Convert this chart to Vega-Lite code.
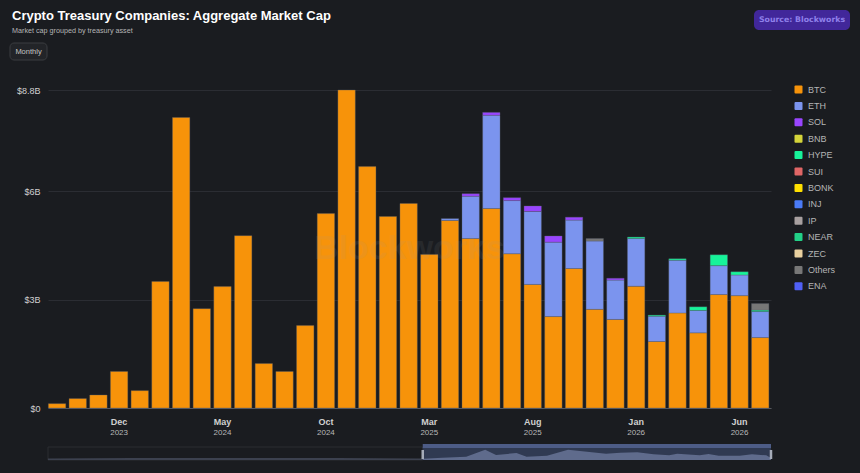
{"$schema":"https://vega.github.io/schema/vega-lite/v6.json","background":"#1a1c20","padding":{"left":9,"top":10,"right":10,"bottom":12},"autosize":{"type":"pad"},"config":{"font":"Liberation Sans","view":{"stroke":null},"concat":{"spacing":0}},"datasets":{"bars":[{"m":"2023-09","a":"BTC","v":0.12},{"m":"2023-10","a":"BTC","v":0.26},{"m":"2023-11","a":"BTC","v":0.36},{"m":"2023-12","a":"BTC","v":1.01},{"m":"2024-01","a":"BTC","v":0.48},{"m":"2024-02","a":"BTC","v":3.5},{"m":"2024-03","a":"BTC","v":8.04},{"m":"2024-04","a":"BTC","v":2.75},{"m":"2024-05","a":"BTC","v":3.36},{"m":"2024-06","a":"BTC","v":4.77},{"m":"2024-07","a":"BTC","v":1.23},{"m":"2024-08","a":"BTC","v":1.01},{"m":"2024-09","a":"BTC","v":2.28},{"m":"2024-10","a":"BTC","v":5.38},{"m":"2024-11","a":"BTC","v":8.8},{"m":"2024-12","a":"BTC","v":6.68},{"m":"2025-01","a":"BTC","v":5.3},{"m":"2025-02","a":"BTC","v":5.66},{"m":"2025-03","a":"BTC","v":4.25},{"m":"2025-04","a":"BTC","v":5.19},{"m":"2025-04","a":"ETH","v":0.05},{"m":"2025-05","a":"BTC","v":4.69},{"m":"2025-05","a":"ETH","v":1.17},{"m":"2025-05","a":"SOL","v":0.07},{"m":"2025-06","a":"BTC","v":5.52},{"m":"2025-06","a":"ETH","v":2.58},{"m":"2025-06","a":"SOL","v":0.08},{"m":"2025-07","a":"BTC","v":4.27},{"m":"2025-07","a":"ETH","v":1.47},{"m":"2025-07","a":"SOL","v":0.08},{"m":"2025-08","a":"BTC","v":3.42},{"m":"2025-08","a":"ETH","v":2.02},{"m":"2025-08","a":"SOL","v":0.15},{"m":"2025-09","a":"BTC","v":2.53},{"m":"2025-09","a":"ETH","v":2.06},{"m":"2025-09","a":"SOL","v":0.17},{"m":"2025-10","a":"BTC","v":3.86},{"m":"2025-10","a":"ETH","v":1.34},{"m":"2025-10","a":"SOL","v":0.08},{"m":"2025-11","a":"BTC","v":2.73},{"m":"2025-11","a":"ETH","v":1.89},{"m":"2025-11","a":"Others","v":0.07},{"m":"2025-12","a":"BTC","v":2.45},{"m":"2025-12","a":"ETH","v":1.09},{"m":"2025-12","a":"SOL","v":0.05},{"m":"2026-01","a":"BTC","v":3.37},{"m":"2026-01","a":"ETH","v":1.32},{"m":"2026-01","a":"HYPE","v":0.04},{"m":"2026-02","a":"BTC","v":1.84},{"m":"2026-02","a":"ETH","v":0.7},{"m":"2026-02","a":"HYPE","v":0.03},{"m":"2026-03","a":"BTC","v":2.63},{"m":"2026-03","a":"ETH","v":1.46},{"m":"2026-03","a":"HYPE","v":0.04},{"m":"2026-04","a":"BTC","v":2.08},{"m":"2026-04","a":"ETH","v":0.62},{"m":"2026-04","a":"HYPE","v":0.1},{"m":"2026-05","a":"BTC","v":3.14},{"m":"2026-05","a":"ETH","v":0.8},{"m":"2026-05","a":"HYPE","v":0.3},{"m":"2026-06","a":"BTC","v":3.11},{"m":"2026-06","a":"ETH","v":0.57},{"m":"2026-06","a":"HYPE","v":0.09},{"m":"2026-07","a":"BTC","v":1.95},{"m":"2026-07","a":"ETH","v":0.72},{"m":"2026-07","a":"HYPE","v":0.04},{"m":"2026-07","a":"Others","v":0.18}],"overOut":[{"d":"2023-09-01","v":1.5},{"d":"2024-01-01","v":2},{"d":"2024-06-01","v":2},{"d":"2024-11-01","v":2},{"d":"2025-03-06","v":1.5}],"overIn":[{"d":"2025-03-06","v":1.3},{"d":"2025-04-04","v":2.3},{"d":"2025-05-09","v":3.3},{"d":"2025-06-06","v":10.3},{"d":"2025-06-22","v":5},{"d":"2025-07-22","v":7},{"d":"2025-08-06","v":3.3},{"d":"2025-09-05","v":4.3},{"d":"2025-10-06","v":10.3},{"d":"2025-11-03","v":8.3},{"d":"2025-12-01","v":6.3},{"d":"2025-12-22","v":7.3},{"d":"2026-01-16","v":7.7},{"d":"2026-02-09","v":5.7},{"d":"2026-03-04","v":4.7},{"d":"2026-03-16","v":6.3},{"d":"2026-04-18","v":4.7},{"d":"2026-05-01","v":6},{"d":"2026-05-16","v":4.3},{"d":"2026-06-16","v":4.3},{"d":"2026-07-04","v":5.7},{"d":"2026-07-25","v":4.7},{"d":"2026-08-01","v":2}],"win":[{"from":"2025-03-06","to":"2026-08-01"}]},"align":"none","spacing":23,"vconcat":[{"spacing":422,"align":"none","hconcat":[{"width":37,"height":17,"title":{"text":"Crypto Treasury Companies: Aggregate Market Cap","subtitle":"Market cap grouped by treasury asset","anchor":"start","frame":"group","dx":-36,"offset":8,"fontSize":13,"fontWeight":"bold","color":"#ffffff","subtitleFontSize":7.2,"subtitleColor":"#b5b5b5","subtitlePadding":4},"data":{"values":[{"t":"Monthly"}]},"encoding":{"x":{"field":"t","type":"nominal","axis":null,"scale":{"paddingInner":0,"paddingOuter":0,"range":[-38,-1]}}},"layer":[{"mark":{"type":"bar","fill":"#222428","stroke":"#3a3c40","cornerRadius":4}},{"mark":{"type":"text","fontSize":7.5,"fill":"#c4c4c4"},"encoding":{"text":{"field":"t"}}}]},{"width":96,"height":20,"data":{"values":[{"t":"Source: Blockworks"}]},"encoding":{"x":{"field":"t","type":"nominal","axis":null,"scale":{"paddingInner":0,"paddingOuter":0}},"y":{"field":"t","type":"nominal","axis":null,"scale":{"paddingInner":0,"paddingOuter":0,"range":[-33,-13]}}},"layer":[{"mark":{"type":"bar","fill":"#41279a","cornerRadius":5}},{"mark":{"type":"text","fontSize":7.8,"fontWeight":"bold","font":"DejaVu Sans","fill":"#8f80ea"},"encoding":{"text":{"field":"t"}}}]}]},{"spacing":8,"vconcat":[{"width":723,"height":318,"resolve":{"axis":{"x":"independent"}},"layer":[{"data":{"name":"bars"},"mark":{"type":"bar","stroke":"#5a5e6a","strokeWidth":1,"strokeOpacity":0.35},"encoding":{"x":{"field":"m","type":"ordinal","sort":null,"scale":{"paddingInner":0.16,"paddingOuter":0.06,"align":0.15},"axis":{"values":["2023-12","2024-05","2024-10","2025-03","2025-08","2026-01","2026-06"],"labelExpr":"timeFormat(toDate(datum.value+'-15'),'%b')","title":null,"ticks":false,"domainColor":"#55585f","labelAngle":0,"labelColor":"#d0d0d0","labelFontWeight":"bold","labelFontSize":9,"labelPadding":9,"labelOverlap":false}},"y":{"aggregate":"sum","field":"v","type":"quantitative","stack":"zero","scale":{"domain":[0,8.8],"nice":false},"axis":{"values":[0,3,6,8.8],"labelExpr":"datum.value==0?'$0':'$'+datum.value+'B'","title":null,"ticks":false,"domain":false,"gridColor":"#2b2d33","labelColor":"#d0d0d0","labelFontSize":9,"labelPadding":8,"minExtent":38,"maxExtent":38}},"order":{"field":"a","sort":"ascending"},"color":{"field":"a","type":"nominal","scale":{"domain":["BTC","ETH","SOL","BNB","HYPE","SUI","BONK","INJ","IP","NEAR","ZEC","Others","ENA"],"range":["#f7930a","#7b94ee","#9945ff","#d4d43a","#17f39a","#e06666","#ffe000","#4a7bf7","#a8a0a0","#22d087","#e8d0a0","#777777","#5060f5"]},"legend":{"orient":"none","legendX":746,"legendY":41,"title":null,"symbolType":"M-0.75,-1 H0.75 Q1,-1 1,-0.75 V0.75 Q1,1 0.75,1 H-0.75 Q-1,1 -1,0.75 V-0.75 Q-1,-1 -0.75,-1 Z","symbolSize":64,"symbolStrokeWidth":0,"symbolOpacity":1,"labelColor":"#b5b5b5","labelFontSize":9,"labelOffset":5,"rowPadding":5.4,"clipHeight":11}}}},{"data":{"name":"bars"},"mark":{"type":"bar","opacity":0},"encoding":{"x":{"field":"m","type":"ordinal","sort":null,"axis":{"orient":"bottom","values":["2023-12","2024-05","2024-10","2025-03","2025-08","2026-01","2026-06"],"labelExpr":"timeFormat(toDate(datum.value+'-15'),'%Y')","title":null,"ticks":false,"domain":false,"labelAngle":0,"labelColor":"#b8b8b8","labelFontSize":8,"labelPadding":20,"labelOverlap":false}}}},{"data":{"values":[{"t":"Blockworks"}]},"mark":{"type":"text","fontSize":34,"fontWeight":"bold","fill":"#999999","opacity":0.1},"encoding":{"text":{"field":"t"}}}]},{"width":723,"height":16,"layer":[{"data":{"values":[{"f":"2023-09-01","g":"2025-03-06"}]},"mark":{"type":"rect","fill":"#1a1c20","stroke":"#2a2c31"},"encoding":{"x":{"field":"f","type":"temporal","axis":null,"scale":{"domain":["2023-09-01","2026-08-01"]}},"x2":{"field":"g"},"y":{"datum":0,"type":"quantitative","scale":{"domain":[0,16],"nice":false},"axis":{"labels":false,"ticks":false,"domain":false,"grid":false,"title":null,"minExtent":38,"maxExtent":38}},"y2":{"datum":13}}},{"data":{"name":"win"},"mark":{"type":"rect","fill":"#303a52"},"encoding":{"x":{"field":"from","type":"temporal"},"x2":{"field":"to"},"y":{"datum":0,"type":"quantitative"},"y2":{"datum":13}}},{"data":{"name":"overOut"},"mark":{"type":"area","fill":"#3c414f"},"encoding":{"x":{"field":"d","type":"temporal"},"y":{"field":"v","type":"quantitative"}}},{"data":{"name":"overIn"},"mark":{"type":"area","fill":"#5f6b8c"},"encoding":{"x":{"field":"d","type":"temporal"},"y":{"field":"v","type":"quantitative"}}},{"data":{"name":"win"},"mark":{"type":"rect","fill":"#4d5c86"},"encoding":{"x":{"field":"from","type":"temporal"},"x2":{"field":"to"},"y":{"datum":12,"type":"quantitative"},"y2":{"datum":16}}},{"data":{"name":"win"},"mark":{"type":"rule","stroke":"#a5abb8","strokeWidth":2.5},"encoding":{"x":{"field":"from","type":"temporal"},"y":{"datum":1,"type":"quantitative"},"y2":{"datum":10}}},{"data":{"name":"win"},"mark":{"type":"rule","stroke":"#a5abb8","strokeWidth":2.5},"encoding":{"x":{"field":"to","type":"temporal"},"y":{"datum":1,"type":"quantitative"},"y2":{"datum":10}}}]}]}]}
